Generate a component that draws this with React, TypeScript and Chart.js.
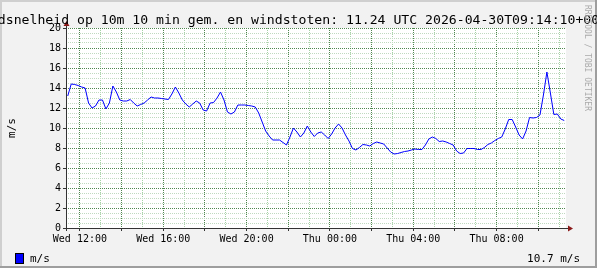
import React, { useEffect, useRef } from 'react';
import { Chart, registerables } from 'chart.js';

Chart.register(...registerables);

// ---- data ----
const START_HOUR = 11 + 20 / 60; // Wed 11:20 (hours since Wed 00:00)
const END_HOUR = START_HOUR + 24;
const SAMPLE_MINUTES = 10;

const windSpeed: number[] = [
  13.2, 14.4, 14.35, 14.25, 14.1, 14.0, 12.5, 12.0, 12.2, 12.8,
  12.8, 11.9, 12.5, 14.2, 13.6, 12.8, 12.7, 12.7, 12.85, 12.5,
  12.2, 12.35, 12.5, 12.8, 13.1, 13.0, 13.0, 12.95, 12.9, 12.85,
  13.4, 14.1, 13.5, 12.8, 12.4, 12.1, 12.4, 12.7, 12.5, 11.8,
  11.7, 12.5, 12.55, 13.0, 13.6, 12.8, 11.6, 11.4, 11.6, 12.3,
  12.3, 12.3, 12.25, 12.2, 12.1, 11.5, 10.6, 9.7, 9.2, 8.8,
  8.8, 8.8, 8.55, 8.3, 9.1, 10.0, 9.6, 9.1, 9.5, 10.2,
  9.6, 9.15, 9.5, 9.6, 9.3, 8.95, 9.4, 10.0, 10.4, 10.0,
  9.3, 8.7, 7.95, 7.8, 8.05, 8.35, 8.3, 8.2, 8.45, 8.6,
  8.5, 8.4, 8.0, 7.6, 7.4, 7.45, 7.55, 7.65, 7.7, 7.8,
  7.9, 7.85, 7.85, 8.3, 8.9, 9.1, 8.95, 8.65, 8.7, 8.6,
  8.45, 8.3, 7.7, 7.45, 7.5, 7.95, 7.95, 7.95, 7.85, 7.85,
  8.05, 8.35, 8.5, 8.75, 8.95, 9.1, 9.9, 10.85, 10.85, 10.1,
  9.3, 8.9, 9.7, 11.05, 11.0, 11.05, 11.3, 13.3, 15.6, 13.5,
  11.35, 11.4, 10.9, 10.75,
];

const xLabelHours = [12, 16, 20, 24, 28, 32];
const xLabelTexts = ['Wed 12:00', 'Wed 16:00', 'Wed 20:00', 'Thu 00:00', 'Thu 04:00', 'Thu 08:00'];
const Y_MIN = 0;
const Y_MAX = 20;
const Y_MINOR_STEP = 0.5;
const Y_LABEL_STEP = 2;

const titleText = 'Windsnelheid op 10m 10 min gem. en windstoten: 11.24 UTC 2026-04-30T09:14:10+00:00';
const yTitle = 'm/s';
const legendLabel = 'm/s';
const lastValueText = '10.7 m/s';
const watermark = 'RRDTOOL / TOBI OETIKER';

// ---- styles ----
const MONO = '"DejaVu Sans Mono", monospace';
const BG = '#f2f2f2';
const MAJOR_GRID = '#4f874f';
const MINOR_GRID_X = '#a6d2a6';
const MINOR_GRID_Y = '#c0dac0';
const LINE_COLOR = '#0000ff';
const AXIS_COLOR = '#333333';
const ARROW_COLOR = '#8b1a1a';

const decorPlugin = {
  id: 'rrdDecor',
  beforeDraw(chart: any) {
    const { ctx, width, height, chartArea } = chart;
    ctx.save();
    ctx.fillStyle = BG;
    ctx.fillRect(0, 0, width, height);
    ctx.fillStyle = '#cfcfcf';
    ctx.fillRect(0, 0, width, 2);
    ctx.fillRect(0, 0, 2, height);
    ctx.fillStyle = '#9e9e9e';
    ctx.fillRect(0, height - 2, width, 2);
    ctx.fillRect(width - 2, 0, 2, height);
    ctx.fillStyle = '#ffffff';
    ctx.fillRect(chartArea.left, chartArea.top, chartArea.right - chartArea.left, chartArea.bottom - chartArea.top);
    ctx.restore();
  },
  afterDraw(chart: any) {
    const { ctx, width, chartArea } = chart;
    const { left, right, top, bottom } = chartArea;
    ctx.save();
    ctx.strokeStyle = AXIS_COLOR;
    ctx.lineWidth = 1;
    ctx.beginPath();
    ctx.moveTo(left - 3, bottom + 0.5);
    ctx.lineTo(right + 3, bottom + 0.5);
    ctx.moveTo(left + 0.5, bottom + 3);
    ctx.lineTo(left + 0.5, top - 3);
    ctx.stroke();
    ctx.fillStyle = ARROW_COLOR;
    ctx.beginPath();
    ctx.moveTo(right + 2, bottom + 0.5 - 3);
    ctx.lineTo(right + 7, bottom + 0.5);
    ctx.lineTo(right + 2, bottom + 0.5 + 3);
    ctx.closePath();
    ctx.fill();
    ctx.beginPath();
    ctx.moveTo(left + 0.5 - 3, top - 2);
    ctx.lineTo(left + 0.5, top - 7);
    ctx.lineTo(left + 0.5 + 3, top - 2);
    ctx.closePath();
    ctx.fill();

    ctx.fillStyle = '#000';
    ctx.font = `13.15px ${MONO}`;
    ctx.textAlign = 'center';
    ctx.textBaseline = 'alphabetic';
    ctx.fillText(titleText, width / 2, 24);

    ctx.save();
    ctx.translate(15, (top + bottom) / 2);
    ctx.rotate(-Math.PI / 2);
    ctx.font = `11px ${MONO}`;
    ctx.textAlign = 'center';
    ctx.textBaseline = 'alphabetic';
    ctx.fillText(yTitle, 0, 0);
    ctx.restore();

    ctx.fillStyle = LINE_COLOR;
    ctx.fillRect(16, 254, 7, 9);
    ctx.strokeStyle = '#000';
    ctx.strokeRect(15.5, 253.5, 8, 10);
    ctx.fillStyle = '#000';
    ctx.font = `11px ${MONO}`;
    ctx.textAlign = 'left';
    ctx.fillText(legendLabel, 30, 262);
    ctx.textAlign = 'right';
    ctx.fillText(lastValueText, 580, 262);

    ctx.save();
    ctx.translate(585, 5);
    ctx.rotate(Math.PI / 2);
    ctx.fillStyle = '#aaaaaa';
    ctx.font = `8px ${MONO}`;
    ctx.textAlign = 'left';
    ctx.textBaseline = 'alphabetic';
    ctx.fillText(watermark, 0, 0);
    ctx.restore();

    ctx.restore();
  },
};

export default function App() {
  const ref = useRef<HTMLCanvasElement>(null);

  useEffect(() => {
    document.body.style.margin = '0';
    const canvas = ref.current;
    if (!canvas) return;

    const points = windSpeed.map((v, i) => ({
      x: START_HOUR + ((i + 0.5) * SAMPLE_MINUTES) / 60,
      y: v,
    }));

    const hourTicks: number[] = [];
    for (let h = Math.ceil(START_HOUR); h <= END_HOUR; h++) hourTicks.push(h);
    const yTicks: number[] = [];
    for (let v = Y_MIN; v <= Y_MAX + 1e-9; v += Y_MINOR_STEP) yTicks.push(Math.round(v * 10) / 10);

    const isMajorX = (v: number) => v % 2 === 0;
    const isMajorY = (v: number) => Math.abs(v % Y_LABEL_STEP) < 1e-9;

    const chart = new Chart(canvas, {
      type: 'line',
      data: {
        datasets: [
          {
            label: legendLabel,
            data: points,
            borderColor: LINE_COLOR,
            borderWidth: 1,
            pointRadius: 0,
            tension: 0,
            fill: false,
          },
        ],
      },
      options: {
        animation: false,
        responsive: false,
        devicePixelRatio: 1,
        parsing: false as any,
        normalized: true,
        layout: { padding: { top: 28, right: 31, left: 0, bottom: 0 } },
        plugins: {
          legend: { display: false },
          title: { display: false },
          tooltip: { enabled: false },
        },
        scales: {
          x: {
            type: 'linear',
            min: START_HOUR,
            max: END_HOUR,
            afterBuildTicks: (scale: any) => {
              scale.ticks = hourTicks.map((v) => ({ value: v }));
            },
            afterFit: (scale: any) => {
              scale.height = 40;
            },
            border: { display: false, dash: [1, 1] },
            grid: {
              color: (c: any) => (c.tick && isMajorX(c.tick.value) ? MAJOR_GRID : MINOR_GRID_X),
              tickColor: (c: any) => (c.tick && isMajorX(c.tick.value) ? AXIS_COLOR : 'rgba(0,0,0,0)'),
              tickLength: 3,
              lineWidth: 1,
            },
            ticks: {
              autoSkip: false,
              maxRotation: 0,
              minRotation: 0,
              padding: 2,
              color: '#000',
              font: { family: MONO, size: 10 },
              callback: (v: any) => {
                const idx = xLabelHours.indexOf(Number(v));
                return idx >= 0 ? xLabelTexts[idx] : '';
              },
            },
          },
          y: {
            type: 'linear',
            min: Y_MIN,
            max: Y_MAX,
            afterBuildTicks: (scale: any) => {
              scale.ticks = yTicks.map((v) => ({ value: v }));
            },
            afterFit: (scale: any) => {
              scale.width = 66;
            },
            border: { display: false, dash: [1, 1] },
            grid: {
              color: (c: any) => (c.tick && isMajorY(c.tick.value) ? MAJOR_GRID : MINOR_GRID_Y),
              tickColor: (c: any) => (c.tick && isMajorY(c.tick.value) ? AXIS_COLOR : 'rgba(0,0,0,0)'),
              tickLength: 3,
              lineWidth: 1,
            },
            ticks: {
              autoSkip: false,
              padding: 2,
              color: '#000',
              font: { family: MONO, size: 10 },
              callback: (v: any) => (isMajorY(Number(v)) ? String(v) : ''),
            },
          },
        },
      },
      plugins: [decorPlugin],
    });

    return () => chart.destroy();
  }, []);

  return <canvas ref={ref} width={597} height={268} style={{ display: 'block', width: 597, height: 268 }} />;
}
